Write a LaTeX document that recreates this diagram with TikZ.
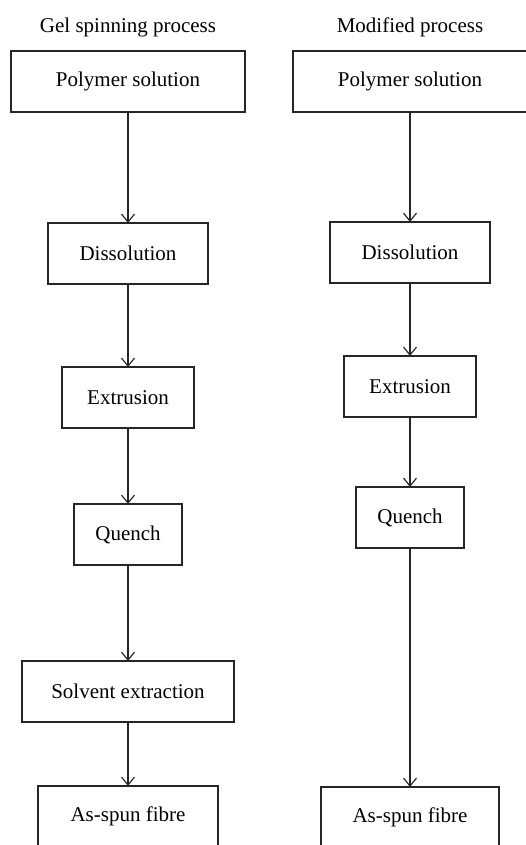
\documentclass[tikz,border=0pt]{standalone}
\usepackage{fontspec}
\setmainfont{Liberation Serif}
\usepackage{tikz}
\usetikzlibrary{arrows.meta, positioning}

\begin{document}
\begin{tikzpicture}[
  x=1pt, y=1pt,
  >={Straight Barb[length=8pt,width=13pt]},
  font=\fontsize{21}{25}\selectfont,
  line width=1.2pt,
  draw=black!85,
  stepbox/.style={
    rectangle, draw=black!85, align=center,
    inner sep=0pt, outer sep=0pt,
    minimum height=61pt,
  },
  title/.style={inner sep=0pt, outer sep=0pt},
]
\useasboundingbox (0,0) rectangle (526,-845);

% --- Gel spinning process ---
\node[stepbox, minimum width=234pt] (P1) at (128,-81.5) {Polymer solution};
\node[stepbox, minimum width=160pt, below=111pt of P1] (D1) {Dissolution};
\node[stepbox, minimum width=132pt, below=83pt of D1] (E1) {Extrusion};
\node[stepbox, minimum width=108pt, below=76pt of E1] (Q1) {Quench};
\node[stepbox, minimum width=212pt, below=96pt of Q1] (S1) {Solvent extraction};
\node[stepbox, minimum width=180pt, below=64pt of S1] (A1) {As-spun fibre};
\node[title, above=14pt of P1] (T1) {Gel spinning process};

% --- Modified process ---
\node[stepbox, minimum width=234pt] (P2) at (410,-81.5) {Polymer solution};
\node[stepbox, minimum width=160pt, below=110pt of P2] (D2) {Dissolution};
\node[stepbox, minimum width=132pt, below=73pt of D2] (E2) {Extrusion};
\node[stepbox, minimum width=108pt, below=70pt of E2] (Q2) {Quench};
\node[stepbox, minimum width=178pt, below=239pt of Q2] (A2) {As-spun fibre};
\node[title, above=14pt of P2] (T2) {Modified process};

% --- Arrows ---
\draw[->] (P1) -- (D1);
\draw[->] (D1) -- (E1);
\draw[->] (E1) -- (Q1);
\draw[->] (Q1) -- (S1);
\draw[->] (S1) -- (A1);

\draw[->] (P2) -- (D2);
\draw[->] (D2) -- (E2);
\draw[->] (E2) -- (Q2);
\draw[->] (Q2) -- (A2);

\end{tikzpicture}
\end{document}
